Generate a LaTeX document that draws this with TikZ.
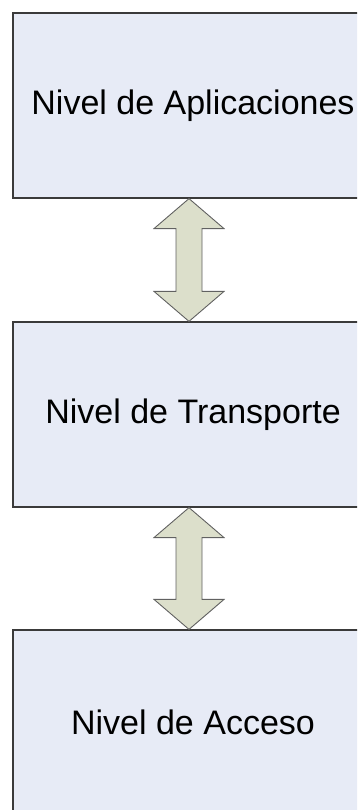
\documentclass[tikz,border=0pt]{standalone}
\usepackage{fontspec}
\setmainfont{Liberation Sans}
\usetikzlibrary{calc}
\definecolor{boxfill}{HTML}{E7EBF6}
\definecolor{arrowfill}{HTML}{DCDFCB}
\definecolor{edgegray}{HTML}{3A3A3A}
\tikzset{
  layer/.style={draw=edgegray, line width=1.2pt, fill=boxfill,
    minimum width=360pt, minimum height=185pt, inner sep=0pt,
    font=\fontsize{34}{40}\selectfont},
  updown/.style={draw=edgegray!80, line width=0.9pt, fill=arrowfill, line join=miter}
}
% double arrow between two tips
\newcommand{\layerarrow}[2]{%
  \draw[updown] (#1) -- ($(#1)+(35,30)$) -- ($(#1)+(13,30)$) -- ($(#2)+(13,-30)$)
    -- ($(#2)+(35,-30)$) -- (#2) -- ($(#2)+(-35,-30)$) -- ($(#2)+(-13,-30)$)
    -- ($(#1)+(-13,30)$) -- ($(#1)+(-35,30)$) -- cycle;}

\begin{document}
\begin{tikzpicture}[x=1pt, y=-1pt]
\clip (0,0) rectangle (357,810);
\node[layer] (app) at (193,105.5) {Nivel de Aplicaciones};
\node[layer] (trans) at (193,414.5) {Nivel de Transporte};
\node[layer] (acc) at (193,722.5) {Nivel de Acceso};
\coordinate (t1) at ($(app.south)+(-4,0)$);
\coordinate (b1) at ($(trans.north)+(-4,0)$);
\coordinate (t2) at ($(trans.south)+(-4,0)$);
\coordinate (b2) at ($(acc.north)+(-4,0)$);
\layerarrow{t1}{b1}
\layerarrow{t2}{b2}
\end{tikzpicture}
\end{document}
